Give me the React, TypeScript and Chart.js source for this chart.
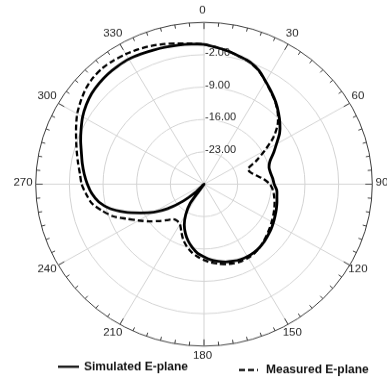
import React, { useEffect, useRef } from 'react';
import { Chart, registerables } from 'chart.js';

Chart.register(...registerables);

// ---- data ----
const ANGLES = [
  0, 5, 10, 15, 20, 25, 30, 35, 40, 45, 50, 55,
  60, 65, 70, 75, 80, 85, 90, 95, 100, 105, 110, 115,
  120, 125, 130, 135, 140, 145, 150, 155, 160, 165, 170, 175,
  180, 185, 190, 195, 200, 205, 210, 215, 220, 225, 230, 235,
  240, 245, 250, 255, 260, 265, 270, 275, 280, 285, 290, 295,
  300, 305, 310, 315, 320, 325, 330, 335, 340, 345, 350, 355,
];

const SIMULATED = [
  0.25, -0.3, -0.8, -1.4, -1.9, -2.9, -4.35, -5.6, -6.8, -8.1, -9.4, -10.8,
  -12.6, -14.05, -15.4, -16.0, -15.95, -15.65, -15.4, -14.8, -14.6, -14.3, -14.0, -13.7,
  -13.35, -13.0, -12.7, -12.35, -12.1, -11.95, -11.95, -12.05, -12.3, -12.6, -13.1, -13.6,
  -14.3, -15.0, -16.1, -17.3, -18.7, -20.3, -22.4, -25.0, -30.0, -27.8, -24.3, -20.8,
  -17.9, -15.3, -12.4, -9.7, -7.8, -6.6, -5.75, -5.0, -4.3, -3.6, -2.7, -1.8,
  -0.85, -0.1, 0.5, 0.85, 1.1, 1.2, 1.25, 1.05, 0.85, 0.7, 0.55, 0.4,
];

const MEASURED = [
  0.25, -0.3, -0.8, -1.4, -2.0, -3.0, -4.4, -5.7, -6.9, -8.3, -10.0, -12.4,
  -15.4, -18.0, -20.3, -20.0, -19.0, -17.5, -16.3, -15.6, -15.2, -14.8, -14.45, -14.1,
  -13.75, -13.35, -12.95, -12.5, -12.05, -11.75, -11.6, -11.6, -11.8, -12.1, -12.55, -13.0,
  -13.6, -14.3, -15.1, -16.1, -17.3, -18.8, -20.0, -20.3, -20.1, -19.0, -17.6, -16.0,
  -14.3, -12.3, -9.8, -8.0, -6.3, -5.4, -4.55, -4.1, -3.4, -2.6, -1.7, -0.65,
  0.45, 1.3, 2.1, 2.6, 2.8, 2.7, 2.5, 2.2, 1.85, 1.4, 0.9, 0.55,
];

const SERIES_LABELS = ['Simulated E-plane', 'Measured E-plane'];
const R_MIN = -30;
const R_MAX = 5;
const R_STEP = 7;
const RADIAL_TICK_LABELS = [-23, -16, -9, -2];
const ANGLE_TICK_LABELS = ['0', '30', '60', '90', '120', '150', '180', '210', '240', '270', '300', '330'];

// ---- layout / style ----
const W = 387;
const H_CSS = 378;
const H_PX = 393;
const CX = 204;
const CY = 191.5;
const RADIUS = 168.3;
const FONT = 'Arial, "Liberation Sans", Helvetica, sans-serif';
const TEXT_COLOR = '#1e1e1e';
const LEGEND_POS = [
  { x0: 58, x1: 79, y: 381.3, tx: 84 },
  { x0: 239, x1: 258, y: 384.7, tx: 266 },
];

const decorPlugin = {
  id: 'polarDecor',
  beforeDatasetsDraw(chart: any) {
    const s: any = chart.scales.r;
    const ctx: CanvasRenderingContext2D = chart.ctx;
    const outer = s.getDistanceFromCenterForValue(R_MAX);
    ctx.save();
    // rim tick marks
    ctx.strokeStyle = '#3c3c3c';
    ctx.lineWidth = 1;
    ANGLES.forEach((a, i) => {
      const len = a % 30 === 0 ? 7 : 4;
      const p1 = s.getPointPosition(i, outer);
      const p2 = s.getPointPosition(i, outer - len);
      ctx.beginPath();
      ctx.moveTo(p1.x, p1.y);
      ctx.lineTo(p2.x, p2.y);
      ctx.stroke();
    });
    // angle labels
    ctx.fillStyle = TEXT_COLOR;
    ctx.font = `11.5px ${FONT}`;
    ctx.textAlign = 'center';
    ctx.textBaseline = 'middle';
    ANGLE_TICK_LABELS.forEach((lbl) => {
      const idx = ANGLES.indexOf(Number(lbl));
      const p = s.getPointPosition(idx, outer + 11.2);
      ctx.fillText(lbl, p.x - 1.5, p.y - 1.5);
    });
    // radial value labels
    ctx.font = `11px ${FONT}`;
    ctx.textAlign = 'left';
    RADIAL_TICK_LABELS.forEach((v) => {
      const y = s.yCenter - s.getDistanceFromCenterForValue(v) - 2;
      const txt = v.toFixed(2);
      const w = ctx.measureText(txt).width;
      ctx.fillStyle = '#fff';
      ctx.fillRect(s.xCenter + 1, y - 4, w, 8);
      ctx.fillStyle = TEXT_COLOR;
      ctx.fillText(txt, s.xCenter + 1, y);
    });
    ctx.restore();
  },
  afterDraw(chart: any) {
    const ctx: CanvasRenderingContext2D = chart.ctx;
    ctx.save();
    chart.data.datasets.forEach((ds: any, i: number) => {
      const pos = LEGEND_POS[i];
      ctx.strokeStyle = '#000';
      ctx.lineWidth = 2.2;
      ctx.setLineDash(ds.borderDash || []);
      ctx.beginPath();
      ctx.moveTo(pos.x0, pos.y);
      ctx.lineTo(pos.x1, pos.y);
      ctx.stroke();
      ctx.setLineDash([]);
      ctx.fillStyle = '#111';
      ctx.font = `bold 12px ${FONT}`;
      ctx.textAlign = 'left';
      ctx.textBaseline = 'middle';
      ctx.fillText(ds.label, pos.tx, pos.y);
    });
    ctx.restore();
  },
};

export default function App() {
  const ref = useRef<HTMLCanvasElement>(null);

  useEffect(() => {
    const canvas = ref.current;
    if (!canvas) return;
    const chart = new Chart(canvas, {
      type: 'radar',
      data: {
        labels: ANGLES.map(String),
        datasets: [
          {
            label: SERIES_LABELS[0],
            data: SIMULATED,
            borderColor: '#000',
            backgroundColor: 'transparent',
            borderWidth: 2.8,
            fill: false,
            tension: 0.25,
            pointRadius: 0,
          },
          {
            label: SERIES_LABELS[1],
            data: MEASURED,
            borderColor: '#000',
            backgroundColor: 'transparent',
            borderWidth: 2.3,
            borderDash: [6, 3],
            fill: false,
            tension: 0.25,
            pointRadius: 0,
          },
        ],
      },
      options: {
        responsive: false,
        animation: false,
        devicePixelRatio: 1,
        layout: { padding: 0 },
        plugins: {
          legend: { display: false },
          tooltip: { enabled: false },
        },
        scales: {
          r: {
            min: R_MIN,
            max: R_MAX,
            startAngle: 0,
            ticks: { display: false, stepSize: R_STEP },
            pointLabels: { display: false },
            grid: {
              circular: true,
              color: (c: any) => (c.tick && c.tick.value === R_MAX ? '#3c3c3c' : '#d3d3d3'),
              lineWidth: 1,
            },
            angleLines: {
              color: '#d3d3d3',
              lineWidth: (c: any) => (c.index % 6 === 0 ? 1 : 0),
            },
            afterFit: (s: any) => {
              s.xCenter = CX;
              s.yCenter = CY;
              s.drawingArea = RADIUS;
            },
          },
        },
      } as any,
      plugins: [decorPlugin],
    });
    return () => chart.destroy();
  }, []);

  return (
    <div style={{ position: 'fixed', left: 0, top: 0, width: W, height: H_CSS, background: '#fff' }}>
      <canvas
        ref={ref}
        width={W}
        height={H_PX}
        style={{ width: `${W}px`, height: `${H_CSS}px`, display: 'block' }}
      />
    </div>
  );
}
